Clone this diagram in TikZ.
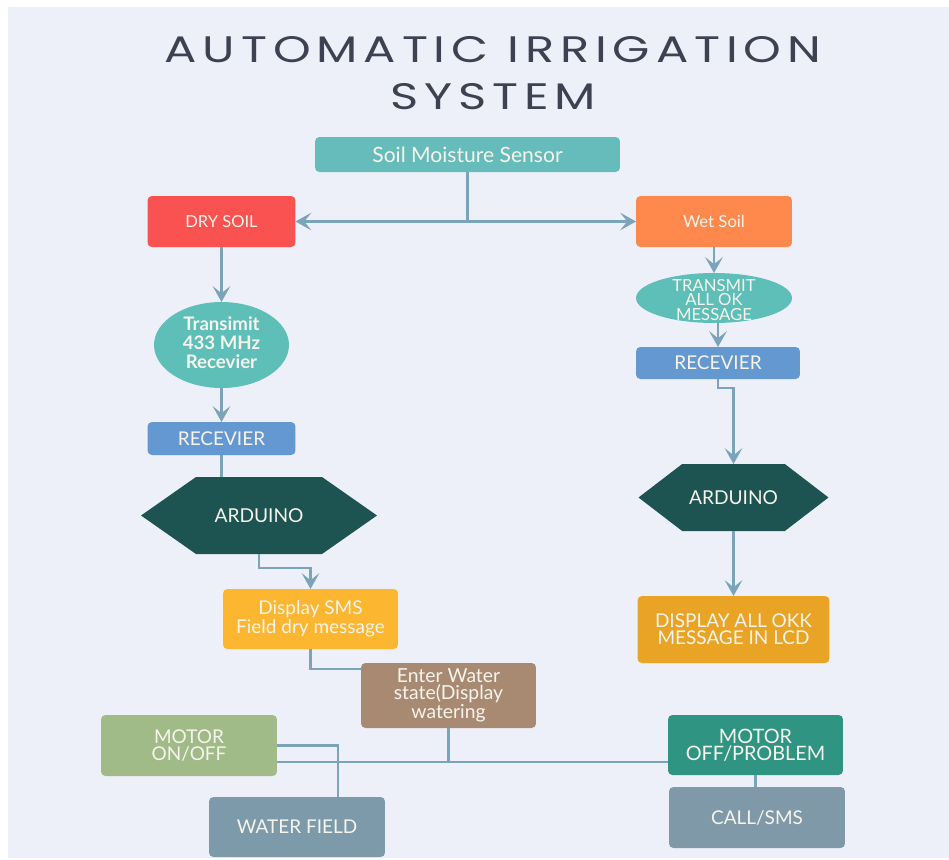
\documentclass[tikz,border=0pt]{standalone}
\usepackage{fontspec}
\setmainfont{Lato}
\newfontfamily\titlefont[FakeStretch=1.3, LetterSpace=16]{Poppins}
\definecolor{bgcol}{RGB}{237,240,249}
\definecolor{titlecol}{RGB}{62,65,82}
\definecolor{linecol}{RGB}{122,164,185}
\definecolor{boxtext}{RGB}{246,244,236}
\definecolor{sensorcol}{RGB}{102,188,186}
\definecolor{drycol}{RGB}{250,82,80}
\definecolor{wetcol}{RGB}{255,136,77}
\definecolor{ovalcol}{RGB}{94,190,184}
\definecolor{reccol}{RGB}{100,152,208}
\definecolor{ardcol}{RGB}{29,83,81}
\definecolor{smscol}{RGB}{253,182,47}
\definecolor{entercol}{RGB}{168,138,114}
\definecolor{motoroncol}{RGB}{160,187,135}
\definecolor{watercol}{RGB}{125,154,170}
\definecolor{lcdcol}{RGB}{233,163,37}
\definecolor{motoroffcol}{RGB}{47,149,130}
\definecolor{callcol}{RGB}{127,153,168}
\usetikzlibrary{arrows.meta, shapes.geometric, shapes.symbols}
\tikzset{
  box/.style={rectangle, rounded corners=2.5pt, draw=none,
    inner sep=0pt, outer sep=0pt, text=boxtext, align=center,
    font=\fontsize{10.8}{9.8}\selectfont},
  oval/.style={ellipse, fill=ovalcol, inner sep=0pt, outer sep=0pt,
    text=boxtext, align=center},
  hexa/.style={signal, signal to=east and west, fill=ardcol,
    inner sep=0pt, outer sep=0pt, text=boxtext,
    font=\fontsize{10.9}{12}\selectfont},
  line/.style={line width=1.5pt, draw=linecol},
  arrow/.style={line, -{Stealth[length=9pt, width=10pt, inset=4pt]}},
  title/.style={font=\titlefont\fontsize{21}{24}\selectfont,
    text=titlecol, inner sep=0pt},
}
\begin{document}
\begin{tikzpicture}[x=0.02cm, y=-0.02cm]
  \useasboundingbox (0,0) rectangle (949,859);
  \fill[white] (0,0) rectangle (949,859);
  \fill[bgcol] (8,7) rectangle (949,858);

  \node[title] (title1) at (493,50) {AUTOMATIC IRRIGATION};
  \node[title] (title2) at (493,97) {SYSTEM};

  \node[box, fill=sensorcol, minimum width=6.1cm, minimum height=0.7cm,
    font=\fontsize{12}{13}\selectfont] (sensor) at (467.5,154.5)
    {Soil Moisture Sensor};
  \node[box, fill=drycol, minimum width=2.96cm, minimum height=1.02cm,
    font=\fontsize{9.4}{10}\selectfont] (dry) at (221.5,221.5) {DRY SOIL};
  \node[box, fill=wetcol, minimum width=3.12cm, minimum height=1.02cm,
    font=\fontsize{9.5}{10}\selectfont] (wet) at (714,221.5) {Wet Soil};

  \node[oval, minimum width=2.7cm, minimum height=1.72cm,
    font=\bfseries\fontsize{10.6}{9.6}\selectfont] (tx1) at (221.5,345)
    {\raisebox{6pt}{\begin{tabular}{@{}c@{}}Transimit\\433 MHz\\Recevier\end{tabular}}};
  \node[box, fill=reccol, minimum width=2.96cm, minimum height=0.66cm]
    (rec1) at (221.5,438.5) {RECEVIER};
  \node[hexa, minimum width=4.72cm, minimum height=1.54cm,
    signal pointer angle=70] (ard1) at (259,515.5) {ARDUINO};
  \node[box, fill=smscol, minimum width=3.5cm, minimum height=1.2cm]
    (sms) at (310.5,619) {Display SMS\\Field dry message};
  \node[box, fill=entercol, minimum width=3.5cm, minimum height=1.3cm,
    font=\fontsize{11}{9.8}\selectfont]
    (enter) at (448.5,695.5) {Enter Water\\state(Display\\watering};
  \node[box, fill=motoroncol, minimum width=3.52cm, minimum height=1.22cm]
    (motor1) at (189,745.5) {MOTOR\\ON/OFF};
  \node[box, fill=watercol, minimum width=3.52cm, minimum height=1.2cm]
    (water) at (297,827) {WATER FIELD};

  \node[oval, minimum width=3.12cm, minimum height=1.0cm,
    font=\fontsize{9.5}{7.8}\selectfont] (tx2) at (714,298)
    {\smash{\raisebox{-4.5pt}{\begin{tabular}{@{}c@{}}TRANSMIT\\[-1pt]ALL OK\\[-1pt]MESSAGE\end{tabular}}}};
  \node[box, fill=reccol, minimum width=3.28cm, minimum height=0.64cm]
    (rec2) at (718,363) {RECEVIER};
  \node[hexa, minimum width=3.8cm, minimum height=1.34cm,
    signal pointer angle=75] (ard2) at (733.5,497.5) {ARDUINO};
  \node[box, fill=lcdcol, minimum width=3.84cm, minimum height=1.34cm]
    (lcd) at (733.5,629.5) {DISPLAY ALL OKK\\MESSAGE IN LCD};
  \node[box, fill=motoroffcol, minimum width=3.5cm, minimum height=1.2cm,
    font=\fontsize{11.3}{9.8}\selectfont]
    (motor2) at (755.5,745) {MOTOR\\OFF/PROBLEM};
  \node[box, fill=callcol, minimum width=3.52cm, minimum height=1.22cm]
    (call) at (757,817.5) {CALL/SMS};

  \coordinate (split) at (sensor.south |- dry.east);
  \coordinate (bus) at (277,762);
  \draw[line] (sensor.south) -- (split);
  \draw[arrow] (split) -- (dry.east);
  \draw[arrow] (split) -- (split -| wet.west);
  \draw[arrow] (dry) -- (tx1);
  \draw[arrow] (tx1) -- (rec1);
  \draw[line] (rec1.south) -- (rec1.south |- ard1.north);
  \draw[arrow] (ard1.south) -- ++(0,14) -| (sms.north);
  \draw[line] (sms.south) |- ([yshift=-0.12cm]enter.north west);
  \draw[line] (enter.south) -- (enter.south |- bus);
  \draw[line] (motor1.east |- bus) -- (motor2.west |- bus);
  \draw[line] (motor1.east) -| ([xshift=0.82cm]water.north);
  \draw[line] (motor2.south) -- (motor2.south |- call.north);
  \draw[arrow] (wet) -- (tx2);
  \draw[arrow] (rec2.north |- tx2.south) -- (rec2.north);
  \draw[arrow] (rec2.south) -- ++(0,9) -| (ard2.north);
  \draw[arrow] (ard2) -- (lcd);
\end{tikzpicture}
\end{document}
